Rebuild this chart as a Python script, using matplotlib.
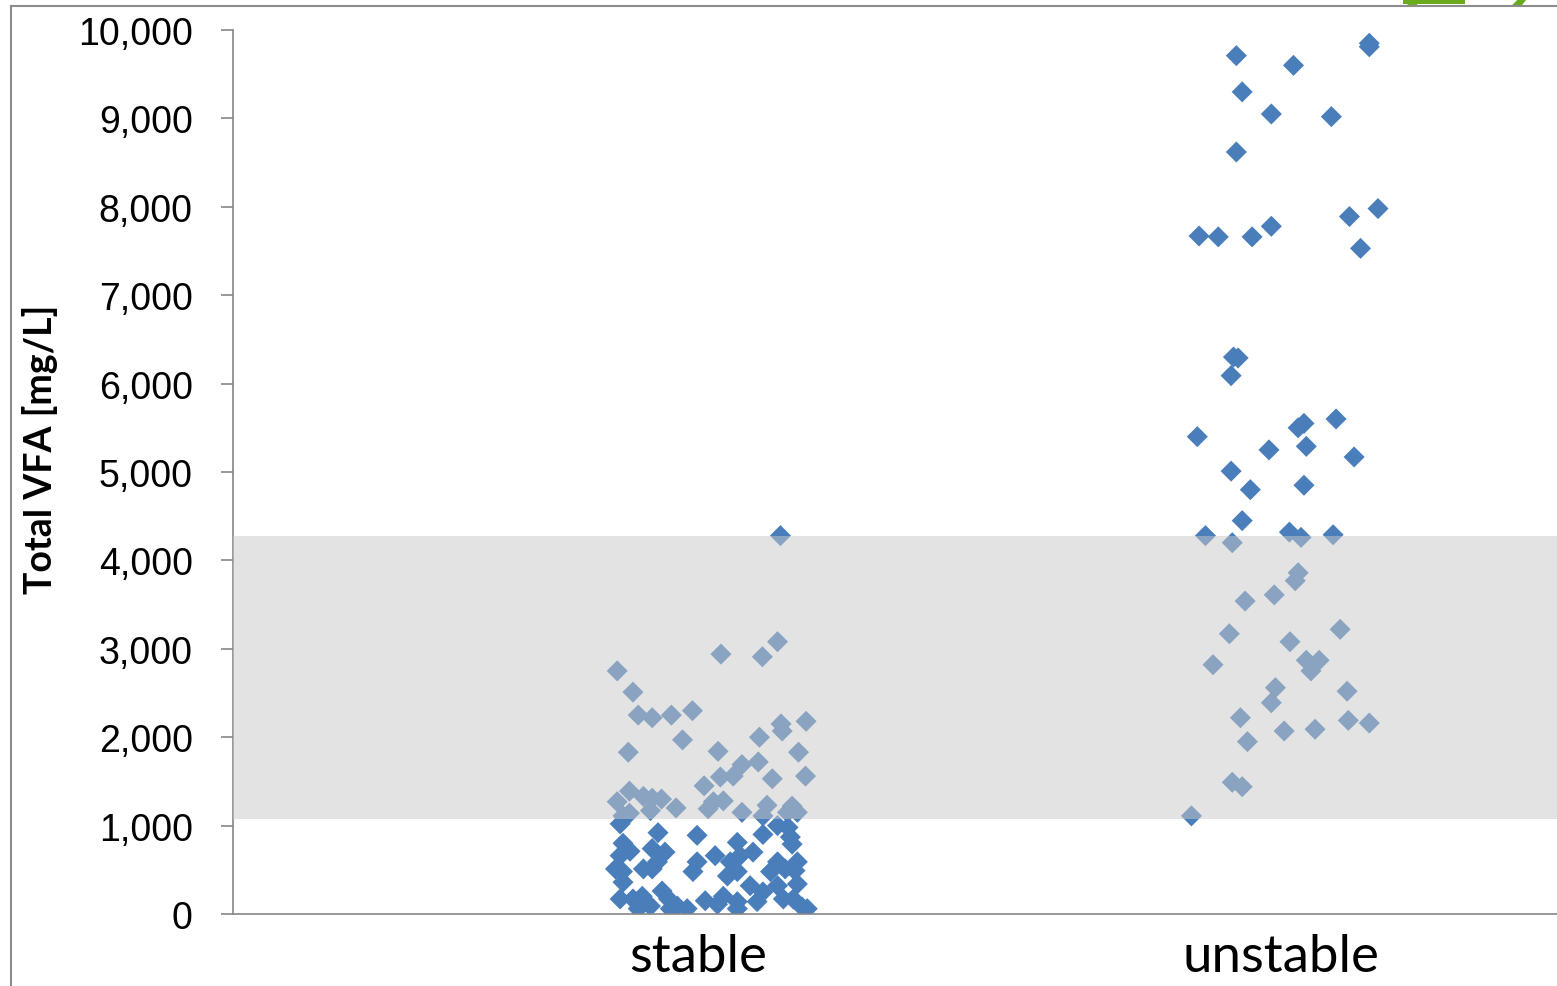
import numpy as np
import matplotlib.pyplot as plt
from matplotlib.lines import Line2D
from matplotlib.patches import Circle, Rectangle

categories = ['stable', 'unstable']

# jitter offsets and total VFA values [mg/L]
stable_offset = [0.141, 0.136, 0.039, 0.110, -0.139, -0.112, -0.103, -0.079, -0.046, -0.010,
                 -0.027, -0.120, 0.105, 0.142, 0.144, 0.185, 0.034, 0.172, 0.075, 0.103,
                 0.038, 0.060, 0.127, 0.184, 0.010, -0.118, -0.139, -0.094, -0.079, -0.063,
                 -0.082, -0.038, -0.118, -0.129, 0.026, 0.043, 0.017, 0.075, 0.118, 0.111,
                 0.161, 0.153, 0.170,
                 -0.134, -0.069, -0.002, -0.129, -0.134, -0.117, -0.079, -0.057, -0.070, -0.142,
                 -0.130, -0.129, -0.094, -0.079, -0.002, 0.029, 0.067, 0.094, 0.111, 0.136,
                 0.154, 0.158, 0.161, 0.055, 0.072, 0.136, 0.149, 0.170, 0.166, 0.124,
                 -0.009, 0.050, 0.067, 0.170, -0.134, -0.112, -0.096, -0.103, -0.082, -0.062,
                 -0.051, -0.036, -0.019, 0.012, 0.033, 0.043, 0.067, 0.067, 0.101, 0.089,
                 0.111, 0.136, 0.146, 0.163, 0.178, 0.187, -0.048]
stable_vfa = [4280, 3080, 2940, 2910, 2750, 2510, 2250, 2220, 2250, 2300,
              1970, 1830, 2000, 2150, 2070, 2180, 1840, 1830, 1690, 1720,
              1550, 1560, 1530, 1560, 1450, 1390, 1270, 1330, 1310, 1300,
              1170, 1200, 1140, 1110, 1270, 1280, 1190, 1150, 1230, 1110,
              1220, 1150, 1150,
              1020, 920, 890, 800, 660, 710, 740, 700, 590, 510,
              480, 360, 510, 510, 590, 660, 810, 700, 900, 1000,
              980, 870, 790, 590, 660, 590, 510, 590, 490, 480,
              480, 430, 480, 340, 170, 170, 200, 60, 90, 260,
              170, 90, 60, 150, 110, 200, 140, 60, 140, 320,
              250, 320, 170, 170, 80, 60, 60]

unstable_offset = [-0.077, 0.021, -0.067, -0.017, 0.086, -0.077, 0.151, 0.151, -0.141, -0.108,
                   -0.050, -0.017, 0.117, 0.166, 0.136, -0.082, -0.074, -0.086, -0.144, 0.029,
                   0.039, 0.094, -0.021, 0.043, 0.125, -0.086, -0.053, 0.039, -0.067, -0.130,
                   -0.084, 0.014, 0.034, 0.089, 0.029, 0.024, -0.062, -0.012, -0.089, 0.101,
                   0.015, -0.117, 0.043, 0.065, 0.051, -0.010, -0.017, 0.113, -0.070, 0.115,
                   0.151, -0.058, 0.005, 0.058, -0.084, -0.067, -0.154]
unstable_vfa = [9710, 9600, 9300, 9050, 9020, 8620, 9850, 9810, 7670, 7660,
                7660, 7780, 7890, 7980, 7530, 6300, 6290, 6090, 5400, 5500,
                5550, 5600, 5250, 5290, 5170, 5010, 4800, 4850, 4450, 4280,
                4200, 4320, 4260, 4290, 3860, 3770, 3540, 3610, 3170, 3220,
                3080, 2820, 2870, 2870, 2750, 2560, 2390, 2520, 2220, 2190,
                2160, 1950, 2070, 2090, 1490, 1440, 1110]

band_low = 1075
band_high = 4280
yticks = [0, 1000, 2000, 3000, 4000, 5000, 6000, 7000, 8000, 9000, 10000]

W, H = 1557, 987
fig = plt.figure(figsize=(W / 100, H / 100), dpi=100)
ax = fig.add_axes([233 / W, 1 - 915 / H, 1 - 233 / W, (915 - 31) / H])

blue = '#4A7EBB'
ax.scatter(np.array(stable_offset) + 0, stable_vfa, marker='D', s=115, color=blue,
           edgecolors='none', zorder=2)
ax.scatter(np.array(unstable_offset) + 1, unstable_vfa, marker='D', s=115, color=blue,
           edgecolors='none', zorder=2)

# grey band on top of the points
ax.axhspan(band_low, band_high, color='#C8C8C8', alpha=0.5, lw=0, zorder=3)

ax.set_ylim(0, 10000)
ax.set_xlim(-0.798, 1.473)
ax.set_yticks(yticks)
ax.set_yticklabels(['{:,}'.format(v) for v in yticks], fontsize=27,
                   fontfamily='Liberation Sans')
ax.set_xticks([0, 1])
ax.set_xticklabels(categories, fontsize=38, fontfamily='Lato')
ax.tick_params(axis='x', length=0, pad=14)
ax.tick_params(axis='y', length=9, width=1.2, color='#868686', pad=20)

for s in ['top', 'right']:
    ax.spines[s].set_visible(False)
for s in ['left', 'bottom']:
    ax.spines[s].set_color('#868686')
    ax.spines[s].set_linewidth(1.2)

ax.set_ylabel('Total VFA [mg/L]', fontsize=27, fontweight='bold', fontfamily='Lato')
ax.yaxis.set_label_coords((58 - 233) / 1324, (915 - 449) / 884)

# slide frame and cropped logo
fig.add_artist(Line2D([11 / W, 11 / W], [0, 1 - 7 / H], color='#8C8C8C', lw=1.5))
fig.add_artist(Line2D([11 / W, 1], [1 - 7 / H, 1 - 7 / H], color='#8C8C8C', lw=1.5))
fig.add_artist(Rectangle((1403 / W, 1 - 5 / H), 62 / W, 5 / H, color='#6AAB1E', lw=0))
logo_ax = fig.add_axes([1380 / W, 1 - 7 / H, 170 / W, 7 / H])
logo_ax.set_xlim(1380, 1550)
logo_ax.set_ylim(7, 0)
logo_ax.axis('off')
logo_ax.add_patch(Circle((1465, -45), 73, fill=False, ec='#6AAB1E', lw=5))

fig.savefig('out.png', dpi=100)
